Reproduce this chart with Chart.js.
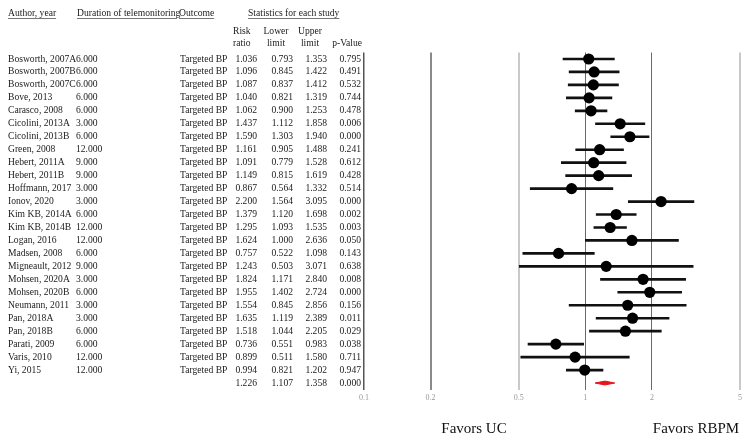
<!DOCTYPE html>
<html>
<head>
<meta charset="utf-8">
<script src="https://cdn.jsdelivr.net/npm/chart.js@4.4.1/dist/chart.umd.min.js"></script>
<style>
  html, body { margin: 0; padding: 0; background: #fff; }
  #wrap { width: 749px; height: 443px; position: relative; }
</style>
</head>
<body>
<div id="wrap"><canvas id="forest" width="749" height="443"></canvas></div>
<script>
// ---- data ----
const authors = [
  "Bosworth, 2007A", "Bosworth, 2007B", "Bosworth, 2007C", "Bove, 2013", "Carasco, 2008",
  "Cicolini, 2013A", "Cicolini, 2013B", "Green, 2008", "Hebert, 2011A", "Hebert, 2011B",
  "Hoffmann, 2017", "Ionov, 2020", "Kim KB, 2014A", "Kim KB, 2014B", "Logan, 2016",
  "Madsen, 2008", "Migneault, 2012", "Mohsen, 2020A", "Mohsen, 2020B", "Neumann, 2011",
  "Pan, 2018A", "Pan, 2018B", "Parati, 2009", "Varis, 2010", "Yi, 2015"
];
const durations = [
  "6.000", "6.000", "6.000", "6.000", "6.000", "3.000", "6.000", "12.000", "9.000", "9.000",
  "3.000", "3.000", "6.000", "12.000", "12.000", "6.000", "9.000", "3.000", "6.000", "3.000",
  "3.000", "6.000", "6.000", "12.000", "12.000"
];
const outcome = "Targeted BP";
const riskRatio = [1.036, 1.096, 1.087, 1.040, 1.062, 1.437, 1.590, 1.161, 1.091, 1.149,
  0.867, 2.200, 1.379, 1.295, 1.624, 0.757, 1.243, 1.824, 1.955, 1.554,
  1.635, 1.518, 0.736, 0.899, 0.994];
const lowerLimit = [0.793, 0.845, 0.837, 0.821, 0.900, 1.112, 1.303, 0.905, 0.779, 0.815,
  0.564, 1.564, 1.120, 1.093, 1.000, 0.522, 0.503, 1.171, 1.402, 0.845,
  1.119, 1.044, 0.551, 0.511, 0.821];
const upperLimit = [1.353, 1.422, 1.412, 1.319, 1.253, 1.858, 1.940, 1.488, 1.528, 1.619,
  1.332, 3.095, 1.698, 1.535, 2.636, 1.098, 3.071, 2.840, 2.724, 2.856,
  2.389, 2.205, 0.983, 1.580, 1.202];
const pValue = [0.795, 0.491, 0.532, 0.744, 0.478, 0.006, 0.000, 0.241, 0.612, 0.428,
  0.514, 0.000, 0.002, 0.003, 0.050, 0.143, 0.638, 0.008, 0.000, 0.156,
  0.011, 0.029, 0.038, 0.711, 0.947];
// pooled estimate: risk ratio, lower, upper, p
const summaryRow = [1.226, 1.107, 1.358, 0.000];

const xTicks = [0.1, 0.2, 0.5, 1, 2, 5];
const xTickLabels = ["0.1", "0.2", "0.5", "1", "2", "5"];

// ---- styling ----
const SERIF = '"Liberation Serif", "Times New Roman", serif';
const gridColors = ["#555", "#8a8a8a", "#c9c9c9", "#6a6a6a", "#6a6a6a", "#c9c9c9"];
const gridWidths = [1.5, 2, 2, 1, 1, 2];
const summaryIdx = authors.length;
const diamondHalf = 0.15;   // half height of pooled diamond, in rows

const fmt = v => v.toFixed(3);

/* ================= TABLE TEXT ================= */

const tablePlugin = {
  id: "tableText",
  afterDraw(chart) {
    const ctx = chart.ctx;
    const ys = chart.scales.y;
    ctx.save();
    ctx.fillStyle = "#1b1b1b";
    ctx.textBaseline = "middle";
    ctx.font = "9.6px " + SERIF;

    const put = (txt, x, y, align) => {
      ctx.textAlign = align;
      ctx.fillText(txt, x, y);
    };
    const underlined = (txt, x, y, maxW) => {
      put(txt, x, y, "left");
      const w = Math.min(ctx.measureText(txt).width, maxW || 999);
      ctx.strokeStyle = "#777";
      ctx.lineWidth = 1;
      ctx.beginPath();
      ctx.moveTo(x, y + 5.5);
      ctx.lineTo(x + w, y + 5.5);
      ctx.stroke();
    };

    // header
    underlined("Author, year", 8, 13);
    underlined("Duration of telemonitoring", 77, 13, 100);
    underlined("Outcome", 179, 13);
    underlined("Statistics for each study", 248, 13);
    put("Risk", 233, 31, "left");
    put("ratio", 233, 43, "left");
    put("Lower", 276, 31, "center");
    put("limit", 276, 43, "center");
    put("Upper", 310, 31, "center");
    put("limit", 310, 43, "center");
    put("p-Value", 362, 43, "right");

    // study rows
    authors.forEach((name, i) => {
      const y = ys.getPixelForValue(i);
      put(name, 8, y, "left");
      put(durations[i], 76, y, "left");
      put(outcome, 180, y, "left");
      put(fmt(riskRatio[i]), 257, y, "right");
      put(fmt(lowerLimit[i]), 293, y, "right");
      put(fmt(upperLimit[i]), 327, y, "right");
      put(fmt(pValue[i]), 361, y, "right");
    });

    // pooled row
    const ySum = ys.getPixelForValue(summaryIdx);
    put(fmt(summaryRow[0]), 257, ySum, "right");
    put(fmt(summaryRow[1]), 293, ySum, "right");
    put(fmt(summaryRow[2]), 327, ySum, "right");
    put(fmt(summaryRow[3]), 361, ySum, "right");

    // favours labels
    ctx.font = "15px " + SERIF;
    ctx.fillStyle = "#111";
    put("Favors UC", 474, 429, "center");
    put("Favors RBPM", 696, 429, "center");
    ctx.restore();
  }
};

/* ================= CHART ================= */

const ciBars = authors.map((_, i) => ({ x: [lowerLimit[i], upperLimit[i]], y: i }));
const points = authors.map((_, i) => ({ x: riskRatio[i], y: i }));
const diamond = [
  { x: summaryRow[1], y: summaryIdx },
  { x: summaryRow[0], y: summaryIdx - diamondHalf },
  { x: summaryRow[2], y: summaryIdx },
  { x: summaryRow[0], y: summaryIdx + diamondHalf },
  { x: summaryRow[1], y: summaryIdx }
];

new Chart(document.getElementById("forest"), {
  type: "bar",
  data: {
    datasets: [
      {
        type: "scatter",
        data: points,
        pointRadius: 5.6,
        pointBackgroundColor: "#000",
        pointBorderWidth: 0,
        showLine: false,
        order: 1
      },
      {
        type: "line",
        data: diamond,
        borderColor: "#e8131b",
        backgroundColor: "#e8131b",
        borderWidth: 1,
        pointRadius: 0,
        fill: "shape",
        order: 1
      },
      {
        type: "bar",
        data: ciBars,
        backgroundColor: "#111",
        barThickness: 2,
        borderSkipped: false,
        order: 2
      }
    ]
  },
  options: {
    indexAxis: "y",
    responsive: false,
    animation: false,
    layout: { padding: { left: 364, right: 9, top: 52.5, bottom: 0 } },
    plugins: { legend: { display: false }, tooltip: { enabled: false } },
    scales: {
      x: {
        type: "logarithmic",
        min: 0.1,
        max: 5,
        afterBuildTicks: s => { s.ticks = xTicks.map(v => ({ value: v })); },
        afterFit: s => { s.height = 53.5; },
        border: { display: false },
        grid: {
          drawTicks: false,
          color: c => gridColors[c.index] || "#999",
          lineWidth: c => gridWidths[c.index] || 1
        },
        ticks: {
          padding: 4,
          color: "#999",
          font: { size: 8, family: SERIF },
          callback: (v, i) => xTickLabels[i]
        }
      },
      y: {
        type: "linear",
        reverse: true,
        offset: false,
        grid: { offset: false },
        min: -0.5,
        max: summaryIdx + 0.5,
        display: false
      }
    }
  },
  plugins: [tablePlugin]
});
</script>
</body>
</html>
